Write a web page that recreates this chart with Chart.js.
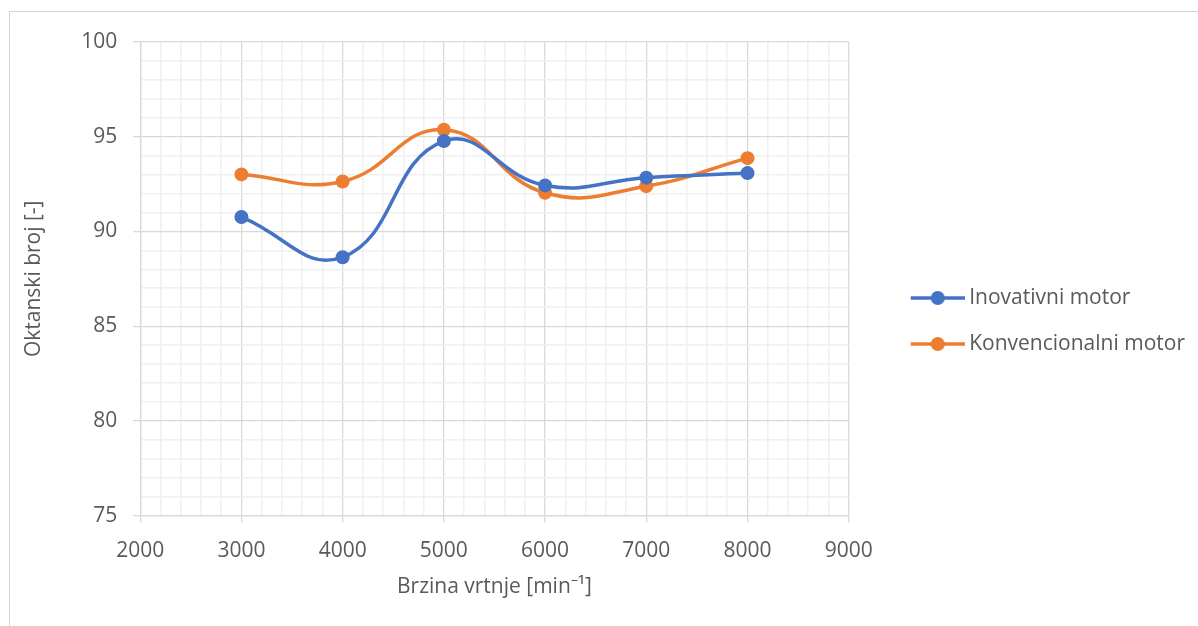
<!DOCTYPE html>
<html>
<head>
<meta charset="utf-8">
<script src="https://cdn.jsdelivr.net/npm/chart.js@4.4.1/dist/chart.umd.min.js"></script>
<style>
  body { margin: 0; background: #fff; overflow: hidden; }
  #frame { position: absolute; left: 9px; top: 11px; width: 1300px; height: 700px;
           border-top: 1px solid #d4d4d4; border-left: 1px solid #d4d4d4; }
  #chart { position: absolute; left: 0; top: 0; }
</style>
</head>
<body>
<div id="frame"></div>
<canvas id="chart" width="1198" height="626"></canvas>
<script>
const speeds = [3000, 4000, 5000, 6000, 7000, 8000];
const inovativni = [90.76, 88.64, 94.77, 92.43, 92.84, 93.08];
const konvencionalni = [93.01, 92.64, 95.37, 92.04, 92.39, 93.87];
const seriesNames = ['Inovativni motor', 'Konvencionalni motor'];
const seriesColors = ['#4472C4', '#ED7D31'];
const xTitle = 'Brzina vrtnje [min\u207B\u00B9]';
const yTitle = 'Oktanski broj [-]';

const textColor = '#595959';
const majorGrid = '#d9d9d9';
const minorGrid = '#f0f0f0';

Chart.defaults.font.family = "'Open Sans', sans-serif";
Chart.defaults.font.size = 21;
Chart.defaults.color = textColor;

// line + dot icon like the Excel legend; left part left blank to push it right
function makeLegendIcon(color) {
  const c = document.createElement('canvas');
  c.width = 97;
  c.height = 16;
  const g = c.getContext('2d');
  g.strokeStyle = color;
  g.lineWidth = 3.5;
  g.beginPath();
  g.moveTo(43, 8);
  g.lineTo(97, 8);
  g.stroke();
  g.fillStyle = color;
  g.beginPath();
  g.arc(70, 8, 7, 0, Math.PI * 2);
  g.fill();
  return c;
}
const legendIcons = seriesColors.map(makeLegendIcon);

function toPoints(values) {
  return speeds.map((s, i) => ({ x: s, y: values[i] }));
}

function isMajor(c, step) {
  return c.tick && c.tick.value % step === 0;
}

const ctx = document.getElementById('chart').getContext('2d');
new Chart(ctx, {
  type: 'line',
  data: {
    datasets: [inovativni, konvencionalni].map((vals, i) => ({
      label: seriesNames[i],
      data: toPoints(vals),
      borderColor: seriesColors[i],
      backgroundColor: seriesColors[i],
      pointBackgroundColor: seriesColors[i],
      pointBorderColor: seriesColors[i],
      borderWidth: 3.5,
      pointRadius: 7,
      pointBorderWidth: 0,
      tension: 0.45,
      fill: false
    }))
  },
  options: {
    responsive: false,
    animation: false,
    layout: { padding: { top: 42, left: 10, right: 3, bottom: 26 } },
    scales: {
      x: {
        type: 'linear',
        min: 2000,
        max: 9000,
        ticks: {
          stepSize: 200,
          autoSkip: false,
          maxRotation: 0,
          padding: 16,
          color: textColor,
          callback: (v) => (v % 1000 === 0 ? String(v) : '')
        },
        grid: {
          color: (c) => (isMajor(c, 1000) ? majorGrid : minorGrid),
          lineWidth: (c) => (isMajor(c, 1000) ? 1.3 : 1.6),
          tickColor: (c) => (isMajor(c, 1000) ? majorGrid : 'rgba(0,0,0,0)'),
          tickLength: 7
        },
        border: { color: majorGrid, width: 1.3 },
        title: { display: true, text: xTitle, color: textColor, padding: { top: -5, bottom: 0 } }
      },
      y: {
        min: 75,
        max: 100,
        ticks: {
          stepSize: 1,
          autoSkip: false,
          padding: 16,
          color: textColor,
          callback: (v) => (v % 5 === 0 ? String(v) : '')
        },
        grid: {
          color: (c) => (isMajor(c, 5) ? majorGrid : minorGrid),
          lineWidth: (c) => (isMajor(c, 5) ? 1.3 : 1.6),
          tickColor: (c) => (isMajor(c, 5) ? majorGrid : 'rgba(0,0,0,0)'),
          tickLength: 7
        },
        border: { color: majorGrid, width: 1.3 },
        title: { display: true, text: yTitle, color: textColor, padding: { top: 11, bottom: 19 } }
      }
    },
    plugins: {
      legend: {
        position: 'right',
        maxWidth: 400,
        labels: {
          usePointStyle: true,
          pointStyleWidth: 85,
          padding: 25,
          color: textColor,
          generateLabels: (chart) => {
            const items = Chart.defaults.plugins.legend.labels.generateLabels(chart);
            items.forEach((item, i) => { item.pointStyle = legendIcons[i]; });
            return items;
          }
        }
      },
      tooltip: { enabled: false }
    }
  }
});
</script>
</body>
</html>
